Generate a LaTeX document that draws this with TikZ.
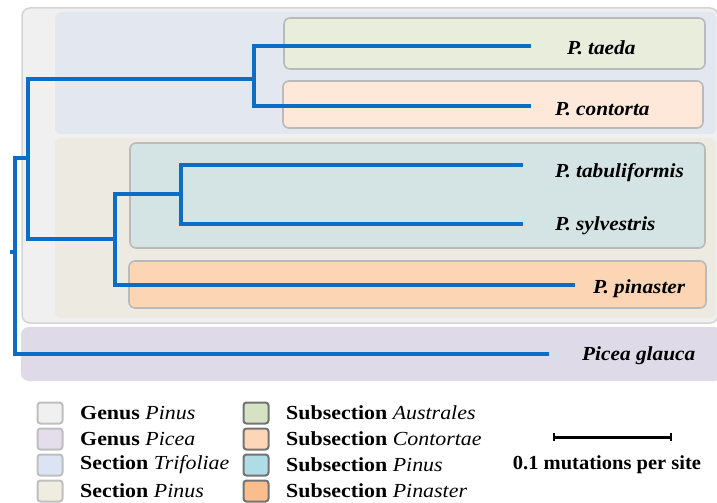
\documentclass[tikz,border=0pt]{standalone}
\usepackage{fontspec}
\setmainfont{Liberation Serif}
\usepackage{tikz}
\usetikzlibrary{positioning,calc}

\definecolor{treeblue}{HTML}{0B6DC6}
\definecolor{genpinus}{HTML}{F0F0F0}
\definecolor{genpicea}{HTML}{DFDAE8}
\definecolor{sectrif}{HTML}{E3E8F0}
\definecolor{secpinus}{HTML}{EDEBE1}
\definecolor{subaus}{HTML}{E9EDDC}
\definecolor{subcont}{HTML}{FDE8DA}
\definecolor{subpinus}{HTML}{D4E4E4}
\definecolor{subpinas}{HTML}{FCD5B5}

\newcommand{\wide}[2]{\scalebox{#1}[1]{#2}}

\begin{document}
\begin{tikzpicture}[
    x=1bp, y=-1bp,
    font=\fontsize{20}{22}\selectfont,
    branch/.style={draw=treeblue, line width=3.2bp},
    gen_box/.style={rounded corners=8bp},
    sec_box/.style={rounded corners=6bp},
    sub_box/.style={draw=black!27, line width=1.6bp, rounded corners=6bp},
    tip_lbl/.style={anchor=west, inner sep=0pt, font=\fontsize{20}{22}\selectfont\bfseries\itshape},
    leg_sq/.style={minimum width=25bp, minimum height=21bp, inner sep=0pt, rounded corners=3bp, line width=2bp},
    leg_txt/.style={anchor=west, inner sep=0pt, font=\fontsize{20}{22}\selectfont\bfseries}
]
\useasboundingbox (0,0) rectangle (717,503);

% clade backgrounds
\path[gen_box, fill=genpinus, draw=black!17, line width=1.5bp] (22,8) rectangle (718,323);
\path[sec_box, fill=sectrif] (55,12) rectangle (716,134);
\path[sec_box, fill=secpinus] (55,138) rectangle (716,318);
\path[gen_box, fill=genpicea, draw=black!10] (21,327) rectangle (722,381);
\path[sub_box, fill=subaus] (284,18) rectangle (705,69);
\path[sub_box, fill=subcont] (283,81) rectangle (703,128);
\path[sub_box, fill=subpinus] (130,143) rectangle (705,248);
\path[sub_box, fill=subpinas] (129,261) rectangle (706,308);

% inner nodes
\coordinate (stub) at (10,252);
\coordinate (n0) at (15,252);
\coordinate (n1) at (28,158);
\coordinate (n2) at (254,79);
\coordinate (n3) at (115,239);
\coordinate (n4) at (181,194);

% tips
\coordinate (t1) at (531,46);
\coordinate (t2) at (531,106);
\coordinate (t3) at (523,165);
\coordinate (t4) at (523,224);
\coordinate (t5) at (575,285);
\coordinate (t6) at (549,354);

\node[tip_lbl] (taeda) at (567,48) {\wide{1.07}{P. taeda}};
\node[tip_lbl] (contorta) at (555,109) {\wide{1.07}{P. contorta}};
\node[tip_lbl] (tabul) at (555,173) {\wide{1.07}{P. tabuliformis}};
\node[tip_lbl] (sylv) at (555,226) {\wide{1.07}{P. sylvestris}};
\node[tip_lbl] (pinas) at (593,289) {\wide{1.07}{P. pinaster}};
\node[tip_lbl] (glauca) at (582,356) {\wide{1.07}{Picea glauca}};

% branches
\draw[branch] (stub) -- (n0);
\draw[branch] (n0) |- (n1);
\draw[branch] (n0) |- (t6);
\draw[branch] (n1) |- (n2);
\draw[branch] (n1) |- (n3);
\draw[branch] (n2) |- (t1);
\draw[branch] (n2) |- (t2);
\draw[branch] (n3) |- (n4);
\draw[branch] (n3) |- (t5);
\draw[branch] (n4) |- (t3);
\draw[branch] (n4) |- (t4);

% legend
\node[leg_sq, draw=black!25, fill={rgb,255:red,240;green,240;blue,240}] (lg1) at (50,413) {};
\node[leg_sq, draw=black!25, fill={rgb,255:red,228;green,221;blue,235}] (lg2) at (50,439) {};
\node[leg_sq, draw=black!25, fill={rgb,255:red,218;green,228;blue,242}] (lg3) at (50,465) {};
\node[leg_sq, draw=black!25, fill={rgb,255:red,238;green,237;blue,224}] (lg4) at (50,491) {};
\node[leg_txt] at (80,413) {\wide{1.1}{Genus \textit{\mdseries Pinus}}};
\node[leg_txt] at (80,439) {\wide{1.1}{Genus \textit{\mdseries Picea}}};
\node[leg_txt] at (80,465) {\wide{1.1}{Section \textit{\mdseries Trifoliae}}};
\node[leg_txt] at (80,491) {\wide{1.1}{Section \textit{\mdseries Pinus}}};

\node[leg_sq, draw=black!55, fill={rgb,255:red,213;green,227;blue,196}] (lg5) at (256,413) {};
\node[leg_sq, draw=black!55, fill={rgb,255:red,253;green,213;blue,183}] (lg6) at (256,439) {};
\node[leg_sq, draw=black!55, fill={rgb,255:red,176;green,220;blue,230}] (lg7) at (256,465) {};
\node[leg_sq, draw=black!55, fill={rgb,255:red,251;green,189;blue,140}] (lg8) at (256,491) {};
\node[leg_txt] at (286,413) {\wide{1.1}{Subsection \textit{\mdseries Australes}}};
\node[leg_txt] at (286,439) {\wide{1.1}{Subsection \textit{\mdseries Contortae}}};
\node[leg_txt] at (286,465) {\wide{1.1}{Subsection \textit{\mdseries Pinus}}};
\node[leg_txt] at (286,491) {\wide{1.1}{Subsection \textit{\mdseries Pinaster}}};

% scale bar
\coordinate (sb1) at (554,437);
\coordinate (sb2) at (671,437);
\draw[line width=3bp] (sb1) -- (sb2);
\draw[line width=1.6bp] ($(sb1)+(0,-4)$) -- ($(sb1)+(0,4)$);
\draw[line width=1.6bp] ($(sb2)+(0,-4)$) -- ($(sb2)+(0,4)$);
\node[leg_txt, anchor=center] (sblbl) at (607,465) {\wide{1.03}{0.1 mutations per site}};

\end{tikzpicture}
\end{document}
